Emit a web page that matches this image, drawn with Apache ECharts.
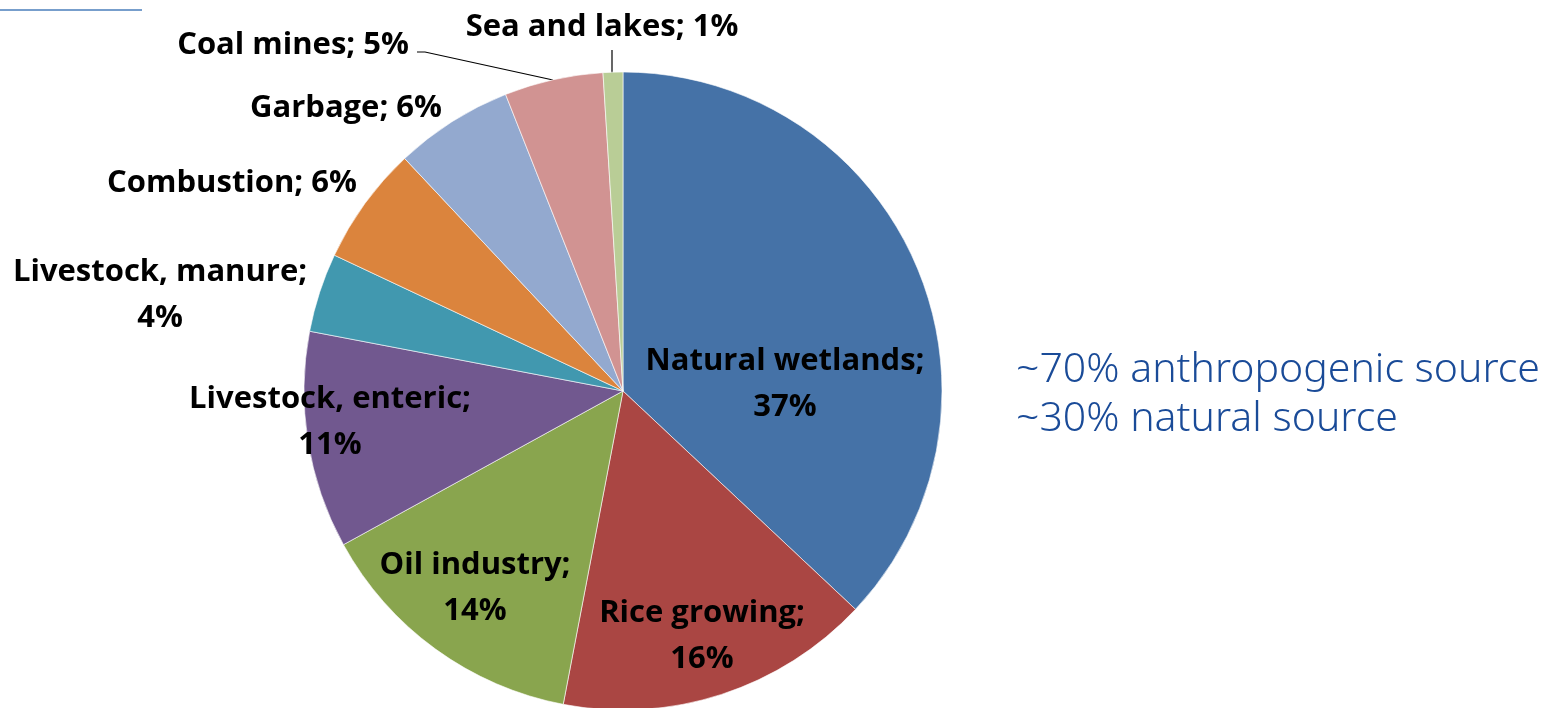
<!DOCTYPE html>
<html>
<head>
<meta charset="utf-8">
<script src="https://cdn.jsdelivr.net/npm/echarts@6/dist/echarts.min.js"></script>
<style>
  html, body { margin: 0; padding: 0; background: #fff; }
  #chart { width: 1556px; height: 708px; }
</style>
</head>
<body>
<div id="chart"></div>
<script>
// 数据
const sources = ['Natural wetlands', 'Rice growing', 'Oil industry', 'Livestock, enteric',
  'Livestock, manure', 'Combustion', 'Garbage', 'Coal mines', 'Sea and lakes']
const shares = [37, 16, 14, 11, 4, 6, 6, 5, 1]
const notes = ['~70% anthropogenic source', '~30% natural source']

const colors = ['#4572a7', '#aa4643', '#89a54e', '#71588f', '#4198af',
  '#db843d', '#93a9cf', '#d19392', '#b9cd96']

// 标签位置（文字块中心）
const labelSpots = [
  [785, 384], [702, 636], [475, 588], [330, 422], [160, 295],
  [232, 183], [346, 108], [293, 45], [602, 27]
]
const twoLines = [true, true, true, true, true, false, false, false, false]
const leaderLines = {
  7: [[553, 80], [425, 52], [417, 52]],
  8: [[612, 73], [612, 62], [612, 50]]
}

const myChart = echarts.init(document.getElementById('chart'))

const option = {
  animation: false,
  graphic: [
    {
      type: 'line',
      shape: {x1: 0, y1: 10, x2: 142, y2: 10},
      style: {stroke: '#4a7ebb', lineWidth: 1.5}
    },
    {
      type: 'text',
      left: 1016,
      top: 346,
      style: {
        text: notes.join('\n'),
        font: '300 41px "Noto Sans"',
        lineHeight: 49,
        fill: '#1a4b98'
      }
    }
  ],
  series: [
    {
      type: 'pie',
      center: [623, 391],
      radius: 319,
      startAngle: 90,
      clockwise: true,
      color: colors,
      itemStyle: {borderColor: '#fff', borderWidth: 0.6},
      label: {
        color: '#000',
        fontFamily: 'Open Sans',
        fontWeight: 'bold',
        fontSize: 31,
        lineHeight: 46,
        align: 'center'
      },
      labelLine: {show: false},
      labelLayout: function (params) {
        const i = params.dataIndex
        const res = {
          x: labelSpots[i][0],
          y: labelSpots[i][1],
          align: 'center',
          verticalAlign: 'middle'
        }
        if (leaderLines[i]) res.labelLinePoints = leaderLines[i]
        return res
      },
      emphasis: {disabled: true},
      data: sources.map((name, i) => ({
        name: name,
        value: shares[i],
        label: {
          position: leaderLines[i] ? 'outside' : 'inside',
          formatter: twoLines[i] ? '{b};\n{c}%' : '{b}; {c}%'
        },
        labelLine: leaderLines[i]
          ? {show: true, length: 10, length2: 10, lineStyle: {color: '#000', width: 1.2}}
          : {show: false}
      }))
    }
  ]
}

myChart.setOption(option)
</script>
</body>
</html>
